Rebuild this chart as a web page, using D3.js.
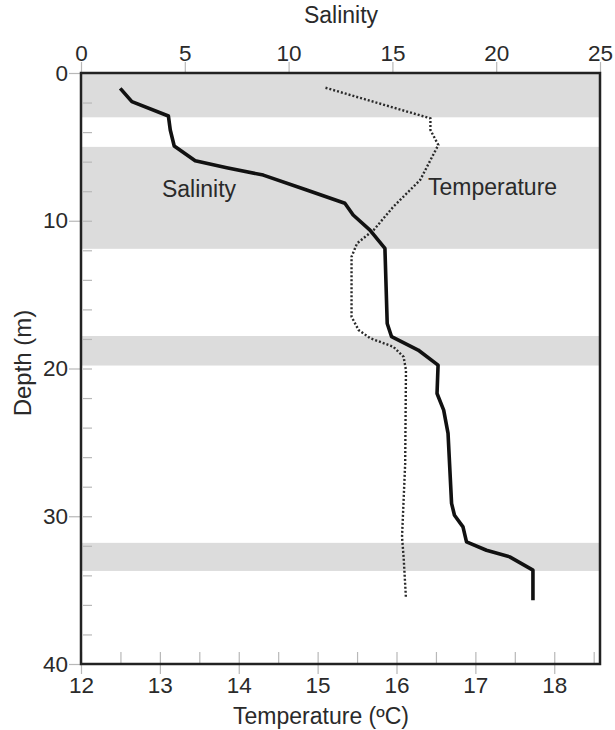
<!DOCTYPE html>
<html>
<head>
<meta charset="utf-8">
<script src="https://cdn.jsdelivr.net/npm/d3@7"></script>
<style>
  body { margin: 0; background: #fff; }
  svg text { font-family: "Liberation Sans", Arial, sans-serif; fill: #2a2a2a; }
</style>
</head>
<body>
<svg id="chart" width="615" height="730"></svg>
<script>
// ---- data ----
const salinityDepth = [1.04, 1.94, 2.91, 3.86, 4.94, 5.94, 6.41, 6.91, 7.92, 8.82, 9.61, 10.63, 11.87, 16.95, 17.85, 18.75, 19.77, 21.69, 22.82, 24.39, 29.13, 29.93, 30.72, 31.73, 32.30, 32.75, 33.65, 35.68];
const salinityValues = [1.89, 2.45, 4.21, 4.30, 4.49, 5.50, 7.02, 8.78, 10.87, 12.71, 13.11, 13.92, 14.64, 14.75, 14.96, 16.24, 17.20, 17.15, 17.47, 17.68, 17.85, 17.99, 18.40, 18.57, 19.53, 20.65, 21.77, 21.77];
const temperatureDepth = [1.0, 3.07, 3.86, 4.87, 7.24, 9.05, 10.63, 11.53, 12.44, 12.88, 16.50, 17.40, 17.96, 18.53, 19.21, 20.11, 26.43, 31.40, 32.75, 35.57];
const temperatureValues = [15.10, 16.43, 16.43, 16.53, 16.30, 15.96, 15.71, 15.50, 15.43, 15.43, 15.43, 15.52, 15.67, 15.96, 16.09, 16.12, 16.11, 16.07, 16.09, 16.12];
const bandStarts = [0, 5, 17.8, 31.8];
const bandEnds = [3, 11.9, 19.8, 33.7];
const salinityTicks = [0, 5, 10, 15, 20, 25];
const temperatureTicks = [12, 13, 14, 15, 16, 17, 18];
const temperatureMinorTicks = [12, 12.5, 13, 13.5, 14, 14.5, 15, 15.5, 16, 16.5, 17, 17.5, 18, 18.5];
const depthTicks = [0, 10, 20, 30, 40];
const depthMinorTicks = [2, 4, 6, 8, 10, 12, 14, 16, 18, 20, 22, 24, 26, 28, 30, 32, 34, 36, 38];

// ---- layout ----
const L = 81, R = 600, T = 73, B = 664;
const svg = d3.select("#chart");

const xSal = d3.scaleLinear().domain([0, 25]).range([L, R]);
const xTemp = d3.scaleLinear().domain([12, 18.58]).range([L, R]);
const yDepth = d3.scaleLinear().domain([0, 40]).range([T, B]);

const tickColor = "#b8b8b8";
const tickFont = 22.5;
const titleFont = 23;

// bands
svg.append("g").selectAll("rect")
  .data(bandStarts.map((s, i) => [s, bandEnds[i]]))
  .join("rect")
  .attr("x", L).attr("width", R - L)
  .attr("y", d => yDepth(d[0]))
  .attr("height", d => yDepth(d[1]) - yDepth(d[0]))
  .attr("fill", "#dcdcdc");

function styleAxis(g, fontSize) {
  g.select(".domain").remove();
  g.selectAll(".tick line").attr("stroke", tickColor).attr("stroke-width", 1.2);
  g.selectAll(".tick text").attr("font-size", fontSize).attr("fill", "#2a2a2a")
    .attr("font-family", "'Liberation Sans', Arial, sans-serif");
}

// bottom: inner minor ticks
svg.append("g").attr("transform", `translate(0,${B})`)
  .call(d3.axisBottom(xTemp).tickValues(temperatureMinorTicks).tickSize(-12).tickFormat(""))
  .call(g => styleAxis(g, tickFont));
// bottom: labelled ticks
svg.append("g").attr("transform", `translate(0,${B})`)
  .call(d3.axisBottom(xTemp).tickValues(temperatureTicks).tickSize(10).tickPadding(3).tickFormat(d3.format("d")))
  .call(g => styleAxis(g, tickFont));

// top salinity axis
svg.append("g").attr("transform", `translate(0,${T})`)
  .call(d3.axisTop(xSal).tickValues(salinityTicks).tickSize(11).tickPadding(1).tickFormat(d3.format("d")))
  .call(g => styleAxis(g, tickFont));

// left: inner minor ticks
svg.append("g").attr("transform", `translate(${L + 2},0)`)
  .call(d3.axisLeft(yDepth).tickValues(depthMinorTicks).tickSize(-9).tickFormat(""))
  .call(g => styleAxis(g, tickFont));
// left: labelled ticks
svg.append("g").attr("transform", `translate(${L},0)`)
  .call(d3.axisLeft(yDepth).tickValues(depthTicks).tickSize(12).tickPadding(1).tickFormat(d3.format("d")))
  .call(g => styleAxis(g, tickFont));

// frame
svg.append("rect")
  .attr("x", L).attr("y", T).attr("width", R - L).attr("height", B - T)
  .attr("fill", "none").attr("stroke", "#222").attr("stroke-width", 2.5);

// lines
const salLine = d3.line().x(d => xSal(d[0])).y(d => yDepth(d[1]));
const tempLine = d3.line().x(d => xTemp(d[0])).y(d => yDepth(d[1]));

svg.append("path")
  .datum(temperatureValues.map((v, i) => [v, temperatureDepth[i]]))
  .attr("d", tempLine)
  .attr("fill", "none").attr("stroke", "#2a2a2a").attr("stroke-width", 2.4)
  .attr("stroke-dasharray", "2,2");

svg.append("path")
  .datum(salinityValues.map((v, i) => [v, salinityDepth[i]]))
  .attr("d", salLine)
  .attr("fill", "none").attr("stroke", "#111").attr("stroke-width", 3.6)
  .attr("stroke-linejoin", "round");

// labels
svg.append("text").attr("x", 199).attr("y", 197).attr("text-anchor", "middle")
  .attr("font-size", titleFont).text("Salinity");
svg.append("text").attr("x", 428).attr("y", 195).attr("text-anchor", "start")
  .attr("font-size", titleFont).text("Temperature");

svg.append("text").attr("x", 341).attr("y", 23).attr("text-anchor", "middle")
  .attr("font-size", titleFont).text("Salinity");
svg.append("text").attr("x", 321).attr("y", 724).attr("text-anchor", "middle")
  .attr("font-size", titleFont).text("Temperature (ºC)");
svg.append("text")
  .attr("transform", `translate(31,363) rotate(-90)`)
  .attr("text-anchor", "middle").attr("font-size", 24).text("Depth (m)");
</script>
</body>
</html>
